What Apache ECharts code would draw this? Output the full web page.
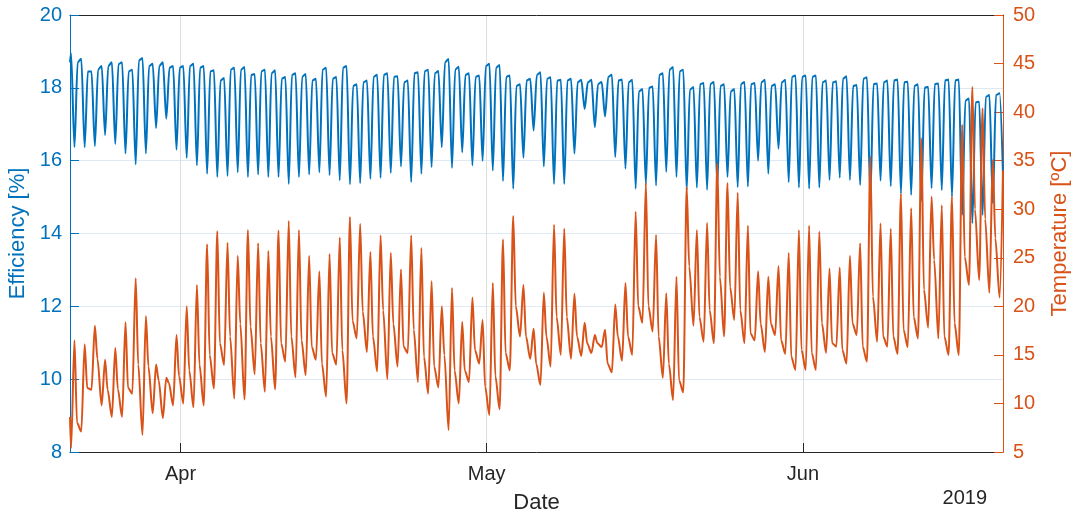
<!DOCTYPE html>
<html>
<head>
<meta charset="utf-8">
<script src="https://cdn.jsdelivr.net/npm/echarts@6/dist/echarts.min.js"></script>
<style>
  html, body { margin: 0; padding: 0; background: #ffffff; }
  #chart { width: 1078px; height: 517px; }
</style>
</head>
<body>
<div id="chart"></div>
<script>
// ---- Data (one value per day, days from 21 Mar 2019) ----
const startDay = [2019, 2, 21];          // 21 March 2019
const startHour = 4;                      // first sample of the record
const effPeakHour = 6.5;                  // end of night plateau
const effDipHour = 14.5;                  // midday dip
const effEveHour = 22;                    // evening recovery
const tempMinHour = 6.5;                  // morning minimum
const tempMaxHour = 14.5;                 // afternoon maximum
const tempEveHour = 20.5;                 // evening
const endHour = 14.5;                     // last day, end of record

// Efficiency [%]
const effStart = 18.7;
const effPeak = [
  18.95, 18.8, 18.45, 18.6, 18.7, 18.7, 18.5, 18.82, 18.66, 18.7,
  18.6, 18.6, 18.66, 18.6, 18.48, 18.27, 18.55, 18.57, 18.38, 18.5,
  18.48, 18.3, 18.4, 18.38, 18.25, 18.55, 18.3, 18.6, 18.1, 18.2,
  18.36, 18.4, 18.32, 18.2, 18.43, 18.5, 18.46, 18.79, 18.58, 18.4,
  18.34, 18.66, 18.63, 18.34, 18.1, 18.25, 18.43, 18.29, 18.22, 18.25,
  18.22, 18.22, 18.16, 18.36, 18.23, 18.22, 17.97, 18.04, 18.4, 18.57,
  18.5, 18.02, 18.13, 18.16, 18.1, 17.97, 18.16, 18.13, 18.22, 18.1,
  18.22, 18.34, 18.34, 18.34, 18.2, 18.18, 18.32, 18.08, 18.29, 18.12,
  18.2, 18.23, 18.17, 18.1, 18.03, 18.12, 18.23, 18.23, 17.71, 17.62,
  17.8, 17.85
];
const effDip = [
  16.37, 16.37, 16.4, 16.7, 16.46, 16.2, 15.9, 16.2, 16.9, 17.15,
  16.3, 16.07, 15.87, 15.64, 15.55, 15.58, 15.68, 15.55, 15.62, 15.55,
  15.55, 15.36, 15.55, 15.62, 15.68, 15.6, 15.46, 15.35, 15.38, 15.5,
  15.53, 15.66, 15.84, 15.41, 15.64, 15.82, 16.37, 15.8, 16.23, 15.87,
  15.99, 15.73, 15.44, 15.23, 16.08, 16.83, 15.84, 15.36, 15.36, 16.19,
  17.42, 16.92, 17.21, 16.1, 15.78, 15.23, 15.36, 15.32, 15.69, 15.55,
  15.18, 15.26, 15.2, 15.3, 15.55, 15.27, 15.29, 16.0, 15.64, 16.33,
  15.41, 15.26, 15.23, 15.26, 15.47, 15.53, 15.47, 15.33, 15.0, 15.45,
  15.3, 15.1, 15.06, 14.9, 15.24, 15.19, 15.01, 14.51, 14.28, 14.51,
  14.83, 15.6
];
const effEve = [
  18.7, 18.45, 18.5, 18.6, 18.65, 18.45, 18.75, 18.6, 18.6, 18.55,
  18.55, 18.6, 18.55, 18.45, 18.2, 18.5, 18.5, 18.35, 18.45, 18.4,
  18.25, 18.35, 18.3, 18.2, 18.5, 18.25, 18.55, 18.05, 18.15, 18.3,
  18.35, 18.3, 18.15, 18.4, 18.45, 18.4, 18.7, 18.5, 18.35, 18.3,
  18.6, 18.55, 18.3, 18.05, 18.2, 18.35, 18.25, 18.2, 18.2, 18.15,
  18.15, 18.1, 18.3, 18.2, 18.15, 17.9, 18.0, 18.35, 18.5, 18.45,
  17.95, 18.1, 18.1, 18.05, 17.9, 18.1, 18.1, 18.15, 18.05, 18.15,
  18.3, 18.3, 18.3, 18.15, 18.15, 18.25, 18.05, 18.25, 18.1, 18.15,
  18.2, 18.15, 18.05, 18.0, 18.1, 18.2, 18.2, 17.65, 17.6, 17.75,
  17.8, 17.8
];
// Temperature [ºC]
const tempStart = 8.6;
const tempMin = [
  5.4, 7.1, 11.4, 9.8, 8.6, 8.6, 11.0, 6.75, 9.0, 8.5,
  9.8, 10.0, 9.6, 9.8, 11.55, 13.95, 10.5, 10.4, 13.0, 11.2,
  11.45, 14.3, 12.7, 12.9, 14.5, 10.7, 14.0, 10.0, 16.7, 15.3,
  13.3, 12.5, 13.8, 15.2, 12.2, 11.0, 11.65, 7.26, 10.0, 12.2,
  14.1, 8.8, 9.4, 13.4, 16.9, 14.6, 11.9, 13.8, 15.0, 14.6,
  14.9, 15.2, 15.8, 13.2, 14.4, 15.0, 18.3, 17.4, 12.65, 10.35,
  11.14, 18.0, 16.35, 16.2, 16.9, 18.6, 16.2, 16.5, 15.3, 17.05,
  15.1, 13.45, 13.45, 13.45, 15.2, 15.85, 14.1, 17.05, 14.3, 16.35,
  15.85, 15.1, 15.8, 16.7, 17.8, 16.7, 15.0, 15.0, 22.2, 22.7,
  21.4, 20.9
];
const tempMax = [
  16.5, 16.1, 18.0, 14.5, 15.7, 18.35, 22.9, 19.0, 14.0, 12.65,
  17.05, 20.0, 22.2, 26.4, 27.75, 26.55, 25.2, 27.85, 26.5, 25.7,
  27.8, 28.8, 27.85, 25.2, 23.6, 25.4, 27.1, 29.2, 28.5, 25.6,
  27.3, 25.5, 23.8, 27.3, 26.0, 22.6, 20.0, 21.9, 18.4, 20.9,
  18.6, 22.4, 26.9, 29.3, 22.2, 17.7, 21.4, 28.4, 28.0, 21.3,
  18.3, 17.05, 17.6, 20.2, 22.4, 29.75, 32.7, 27.35, 21.35, 23.05,
  32.3, 27.85, 28.6, 34.7, 32.7, 31.7, 28.3, 23.6, 23.05, 24.15,
  25.5, 27.85, 28.3, 27.7, 23.9, 24.0, 25.2, 26.5, 35.4, 28.55,
  28.0, 31.6, 30.1, 37.3, 31.3, 30.4, 31.3, 38.7, 42.6, 40.4,
  35.1, 34.0
];
const tempEve = [
  8.0, 11.6, 14.6, 11.4, 11.5, 11.6, 14.0, 13.8, 12.4, 12.1,
  12.8, 13.4, 14.0, 15.0, 16.2, 16.9, 18.2, 17.9, 16.2, 16.9,
  16.2, 16.9, 16.5, 15.85, 14.1, 15.2, 15.5, 18.5, 19.45, 16.9,
  19.6, 18.2, 15.85, 17.6, 14.8, 13.8, 15.0, 13.4, 13.4, 15.5,
  11.7, 12.8, 15.2, 20.0, 16.9, 14.1, 16.9, 18.9, 18.9, 16.9,
  16.2, 16.2, 14.1, 16.9, 16.9, 20.0, 20.0, 16.9, 14.1, 12.4,
  24.1, 18.9, 19.6, 23.05, 22.0, 19.6, 17.2, 18.2, 18.2, 16.5,
  14.8, 15.5, 15.2, 18.25, 16.2, 15.5, 18.25, 15.85, 21.0, 16.9,
  16.9, 17.6, 18.9, 21.7, 24.8, 16.9, 18.25, 25.1, 30.0, 29.0,
  27.0, 27.0
];
// Axis ticks
const monthTicks = [[2019, 3, 1], [2019, 4, 1], [2019, 5, 1]];
const monthLabels = ['Apr', 'May', 'Jun'];
const yearLabel = '2019';
const effTicks = { min: 8, max: 20, interval: 2 };
const tempTicks = { min: 5, max: 50, interval: 5 };

// ---- Build series ----
const HOUR = 3600000;
const t0 = new Date(startDay[0], startDay[1], startDay[2]).getTime();
function at(day, hour) { return t0 + day * 24 * HOUR + hour * HOUR; }
const xMin = at(0, startHour);
const xMax = at(effPeak.length - 1, endHour);

const effData = [[xMin, effStart]];
effPeak.forEach(function (v, k) {
  effData.push([at(k, effPeakHour), v]);
  effData.push([at(k, effDipHour), effDip[k]]);
  if (at(k, effEveHour) <= xMax) effData.push([at(k, effEveHour), effEve[k]]);
});
const tempData = [[xMin, tempStart]];
tempMin.forEach(function (v, k) {
  tempData.push([at(k, tempMinHour), v]);
  tempData.push([at(k, tempMaxHour), tempMax[k]]);
  if (at(k, tempEveHour) <= xMax) tempData.push([at(k, tempEveHour), tempEve[k]]);
});
const tickValues = monthTicks.map(function (d) { return new Date(d[0], d[1], d[2]).getTime(); });

const BLUE = '#0072BD', ORANGE = '#D95319', DARK = '#262626';
const FONT = "'Liberation Sans', Arial, Helvetica, sans-serif";

const chart = echarts.init(document.getElementById('chart'), null, { renderer: 'canvas' });
chart.setOption({
  animation: false,
  backgroundColor: '#ffffff',
  textStyle: { fontFamily: FONT },
  grid: { left: 70, right: 75, top: 15, bottom: 65, containLabel: false, outerBoundsMode: 'none' },
  xAxis: [{
    type: 'value',
    min: xMin, max: xMax,
    name: 'Date', nameLocation: 'middle', nameGap: 40,
    nameTextStyle: { color: DARK, fontSize: 22, fontFamily: FONT },
    axisLine: { show: true, onZero: false, lineStyle: { color: DARK, width: 1 } },
    axisTick: { show: true, inside: true, length: 9, customValues: tickValues, lineStyle: { color: DARK } },
    axisLabel: {
      show: true, customValues: tickValues, margin: 12, color: DARK, fontSize: 20, fontFamily: FONT,
      formatter: function (v) {
        const i = tickValues.indexOf(v);
        return i >= 0 ? monthLabels[i] : '';
      }
    },
    splitLine: { show: true, lineStyle: { color: '#dedede', width: 1 } }
  }, {
    type: 'value', position: 'top',
    min: xMin, max: xMax,
    axisLine: { show: true, onZero: false, lineStyle: { color: DARK, width: 1 } },
    axisTick: { show: false }, axisLabel: { show: false }, splitLine: { show: false }
  }],
  yAxis: [{
    type: 'value', position: 'left',
    min: effTicks.min, max: effTicks.max, interval: effTicks.interval,
    name: 'Efficiency [%]', nameLocation: 'middle', nameGap: 33, nameRotate: 90,
    nameTextStyle: { color: BLUE, fontSize: 22, fontFamily: FONT },
    axisLine: { show: true, onZero: false, lineStyle: { color: BLUE, width: 1 } },
    axisTick: { show: true, inside: true, length: 9, lineStyle: { color: BLUE } },
    axisLabel: { color: BLUE, fontSize: 20, margin: 8, fontFamily: FONT },
    splitLine: { show: true, lineStyle: { color: '#dfe9f3', width: 1 } }
  }, {
    type: 'value', position: 'right',
    min: tempTicks.min, max: tempTicks.max, interval: tempTicks.interval,
    name: 'Temperature [ºC]', nameLocation: 'middle', nameGap: 46, nameRotate: 90,
    nameTextStyle: { color: ORANGE, fontSize: 22, fontFamily: FONT },
    axisLine: { show: true, onZero: false, lineStyle: { color: ORANGE, width: 1 } },
    axisTick: { show: true, inside: true, length: 9, lineStyle: { color: ORANGE } },
    axisLabel: { color: ORANGE, fontSize: 20, margin: 10, fontFamily: FONT },
    splitLine: { show: false }
  }],
  graphic: [{
    type: 'text', right: 91, top: 488,
    style: { text: yearLabel, fill: DARK, font: '20px ' + FONT }
  }],
  series: [{
    name: 'Efficiency', type: 'line', xAxisIndex: 0, yAxisIndex: 0,
    data: effData, showSymbol: false, symbol: 'none',
    smooth: 0.3, smoothMonotone: 'x',
    lineStyle: { color: BLUE, width: 2 }, itemStyle: { color: BLUE }, z: 2
  }, {
    name: 'Temperature', type: 'line', xAxisIndex: 0, yAxisIndex: 1,
    data: tempData, showSymbol: false, symbol: 'none',
    smooth: 0.3, smoothMonotone: 'x',
    lineStyle: { color: ORANGE, width: 2 }, itemStyle: { color: ORANGE }, z: 3
  }]
});
</script>
</body>
</html>
